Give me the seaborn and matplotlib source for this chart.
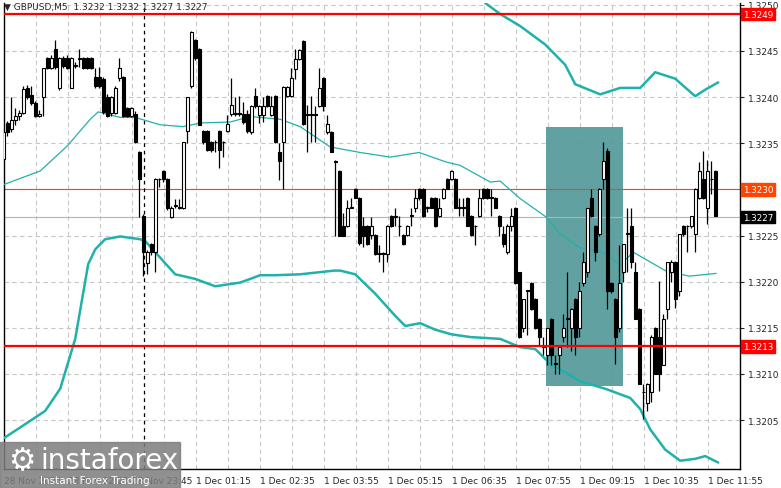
import numpy as np
import pandas as pd
import seaborn as sns
import matplotlib
matplotlib.use("Agg")
import matplotlib.pyplot as plt
from matplotlib.patches import Rectangle

# candles, values in pips above 1.3200
opens = [33.3,37.2,36.5,37.5,38,38.3,41,40.2,39.4,38,40,44.2,43.2,45.2,41,44.2,44.2,41,43.5,44.1,
         44.2,44.2,44.2,42.2,42.2,42,40,38.3,38.3,42.1,42.2,38.8,38,38.2,34.1,27.1,22,24.1,23.2,31.1,
         32,31.1,27,28.2,28,28,36.3,41.2,46.2,45.2,36.3,36.3,35.1,35.1,36.3,35.1,36.3,38.2,38.2,38.3,
         38.2,38.2,36.2,40.1,38.1,38.1,40.1,38.1,40.1,34,35.1,40.1,40.1,43.1,44.1,46.1,38.2,38.1,38.2,39,
         42.1,36.2,36.2,33.1,32,26,26,28,30,29.1,26,26,25.1,25.1,23,23.1,23,27.1,27,26,
         25.1,25.1,27.1,28,30,30,28,29.1,29.1,27.1,29.1,31.1,31.1,31.1,28,28.1,29.1,27.1,26,27.1,
         30,30,29.1,29.1,27.1,25.2,23.2,26,28,21,15,19,19.9,18.1,16,12.9,12,16,11.1,12,
         14,16,15,18.1,15,19.9,21,29.1,26,25.2,31.1,34.2,19.9,18.1,15,21,25.2,26,21,17,
         8,6.9,8,15,14,11,17,21,22.1,19,26,26,26,25.2,29.1,31.1,28,31.1,32]
highs = [36.5,37.4,40,38.8,38.6,41.2,41.3,41.2,39.6,38.6,43.2,44.3,44.6,46.2,44.3,44.5,44.6,44.3,43.8,45.2,
         44.3,44.3,44.3,43.2,43.3,42.2,40.3,40.1,41.2,44.2,42.3,38.9,38.9,38.5,34.2,27.3,23.4,24.2,31.2,31.2,
         32.1,31.2,28.2,29,29,35.1,40,47.2,46.3,45.3,36.4,36.4,35.2,35.3,36.4,35.2,38.1,42.1,40,40.1,
         39.5,38.6,39.1,41,39.2,40,40.2,40.1,40.2,35,41.2,41.2,43.2,45.2,45.2,46.2,39.2,40.1,39,43.2,
         42.2,38.1,36.3,33.2,32.1,27.4,28.9,29.1,30.1,29.2,27,26.1,27,25.2,24,23.2,26.1,27.2,28,27.1,
         25.2,26.1,28,30,30.1,30.1,28.2,29.2,29.2,29.1,30.1,31.2,32.1,31.2,29.1,29.1,29.2,27.2,26.1,30,
         30.1,30.1,30,29.2,27.2,26,26.3,28,28.1,21.1,18.1,19.1,20,18.2,16.1,14,15,16.1,12,13,
         16.5,21,17.1,18.2,20,23.2,28,30,26.1,30.1,35.1,34.5,20,18.2,24,24.1,28,28,22.1,17.1,
         8.9,9,14.2,15.1,20.1,16.5,22.1,22.3,22.2,25.2,26.1,26.1,27.1,30.1,33,34.2,33.2,33.1,32.1]
lows = [31.5,35.8,36.2,37,37.5,38.2,39.8,39.2,37.8,37.8,38,43,43,43,40.8,43.2,43,41,43.2,43.3,
        43.1,43,43.1,41,41,38.2,37.8,38,38.2,41.8,37.8,37.8,37.8,35,27,20.6,20.8,22.9,21,30.3,
        30.8,27.8,26.9,28,27.9,27.9,35,41,44,37,34.9,34.2,34,34,32.3,33.5,36.2,38,38,38,
        37.1,36.1,36,38.8,37.2,37.3,38.9,38,35,31,30,40,40,42,44,37,34.1,35.1,35.1,38.9,
        38.5,36,34,25,25,25,25.9,28,29.1,24,23.8,24,24.6,22.9,22.1,21,22.1,25.9,26,25,
        24,25,26,27.5,28.8,27,27.5,28,25.9,27,29,30,31,28,27.1,27.1,26,25,24,27,
        29,29,27.1,28,25,23.8,23,25.5,19.8,13.9,14.5,14.2,16.9,14.9,13,12,11,11,10,10,
        13.5,12.9,12.5,12,14,19.5,20.5,27,22.2,25,30,17,18.8,11.1,14.5,20,21,21.5,16,8.9,
        5.1,6,7,10,8.2,11,16,20,17.1,18.5,25,23.2,25.8,23.2,29,29,26.2,29.5,27.1]
closes = [36.2,36.2,37.5,38,38.3,40.9,40,39.4,38,38.2,43.2,43.2,44.2,43.3,44.2,43.4,43.2,44.2,43.4,44.2,
          43.2,43.2,43.2,41.2,41.2,38.4,38,40,41,43.2,38,38,38.8,35.1,31.1,23.2,23.2,23.2,31.1,31.1,
          31.1,28,28,28.3,28.1,35.1,40,47.1,44.2,37,35.1,34.3,34.3,35.1,34.3,35.1,37.1,39.2,38.3,38.2,
          37.3,36.3,39,39,39,39,39,39,35.1,33.1,41.1,41.1,42.1,44.1,45.1,37.1,38.1,38.2,38.1,41,
          39,37.1,34,33,25,25,28,28.1,29.1,24.2,25,24.1,26,23,23.1,23,26,26,27.1,26,
          24.1,26,27.1,29.1,29.1,27.1,28,28,26,28,30,30,32,28,28.1,28,26,25.1,26,29.1,
          29.1,29.1,29.1,28,26,24.1,26,27.1,19.9,14,18.1,19,17,15,14,12.9,15,12,11.1,12.9,
          15,16,17,14,19,22.1,28,27.1,23.2,30,33.1,19,19,14,19.9,24.1,25.2,22.1,16,8.9,
          8,8.9,14,10,10,16,22.1,22.1,18.1,25.2,25.2,26,27.1,30,32,29.1,32,31.1,27.1]

# bollinger bands (bar index, pips)
upper_x = [120.5, 124.25, 129.25, 135.5, 140.5, 143, 149.25, 154.25, 159.25, 163, 168, 173, 175.5, 178.75]
upper_y = [50.2, 49, 47.7, 45.7, 43.5, 41.4, 40.3, 41, 41, 42.7, 42, 40.1, 40.8, 41.6]
mid_x = [0, 9.25, 16, 21.75, 23.75, 29.25, 33, 39.25, 45, 49.25, 56.75, 61.75, 69.25, 74.25, 81.75, 89.25,
         96.75, 104, 110.5, 114.25, 121.75, 124.25, 129.25, 135.75, 139.25, 144, 149.25, 154.25, 157.5,
         165.5, 171.5, 178.25]
mid_y = [30.5, 32, 34.7, 37.6, 38.4, 37.8, 37.8, 37, 36.8, 37.2, 37.3, 37.9, 37.6, 36.8, 34.6, 34,
         33.5, 34, 33, 32.6, 30.8, 30.9, 29, 27, 25.2, 23.7, 23.3, 21.8, 23.2, 21.2, 20.6, 20.9]
low_x = [0, 4.25, 10.5, 14.25, 18, 21.25, 23, 25.5, 29.25, 34.25, 35.5, 38, 43, 48, 53, 59.25, 64.25,
         68, 74.25, 82.75, 84.25, 88, 93, 95.5, 98, 100.5, 104.25, 108, 112, 116.75, 124.25, 129.25,
         133, 136.75, 140.5, 144.25, 150.5, 156.75, 159.25, 161.75, 165.5, 169.25, 173, 175.5, 178.75]
low_y = [3, 4.2, 6, 8.4, 13.8, 21.9, 23.5, 24.6, 24.9, 24.6, 24.4, 23.2, 20.8, 20.3, 19.5, 19.9, 20.7,
         20.7, 20.8, 21.2, 21.2, 20.8, 18.7, 17.5, 16.3, 15.2, 15.5, 14.8, 14.3, 14, 13.8, 12.9,
         12.7, 11.1, 10.2, 9.2, 8.4, 7.4, 6.2, 4, 1.8, 0.6, 0.8, 1.1, 0.4]

xtick_labels = ["28 Nov 2025", "28 Nov 22:25", "28 Nov 23:45", "1 Dec 01:15", "1 Dec 02:35", "1 Dec 03:55",
                "1 Dec 05:15", "1 Dec 06:35", "1 Dec 07:55", "1 Dec 09:15", "1 Dec 10:35", "1 Dec 11:55"]
ytick_values = [1.3205, 1.3210, 1.3215, 1.3220, 1.3225, 1.3230, 1.3235, 1.3240, 1.3245, 1.3250]
tag_prices = [1.3249, 1.3230, 1.3227, 1.3213]
tag_colors = ["#ff0000", "#ff4500", "black", "#ff0000"]

to_price = lambda v: 1.32 + np.asarray(v) / 10000.0

df = pd.DataFrame({"open": to_price(opens), "high": to_price(highs),
                   "low": to_price(lows), "close": to_price(closes)})
df["i"] = np.arange(len(df))

sns.set_style("white")
plt.rcParams['font.family'] = ['DejaVu Sans']

fig = plt.figure(figsize=(7.81, 4.89), dpi=100)
ax = fig.add_axes([4 / 781, 19 / 489, 736 / 781, 466 / 489])
ax.set_xlim(0.2, 184.2)
ax.set_ylim(1.31997, 1.32502)

# grid
for gx in np.arange(0.25, 185, 8):
    ax.axvline(gx, color="#c8c8c8", lw=0.8, ls=(0, (4, 3)), zorder=0)
for gy in ytick_values:
    ax.axhline(gy, color="#c8c8c8", lw=0.8, ls=(0, (4, 3)), zorder=0)

# highlight box
ax.add_patch(Rectangle((135.8, 1.32087), 19.2, 0.00281, color="#5a9c9c", alpha=0.95, zorder=1, lw=0))

# level lines
ax.axhline(1.3249, color="#ff0000", lw=1.6, zorder=5)
ax.axhline(1.3213, color="#ff0000", lw=1.6, zorder=5)
ax.axhline(1.3230, color="#ff4500", lw=0.8, zorder=2)
ax.axhline(1.3227, color="#b4b4b4", lw=0.8, zorder=2)
ax.axvline(35.25, color="black", lw=0.9, ls=(0, (3, 3)), zorder=2)

# bands
sns.lineplot(x=upper_x, y=to_price(upper_y), ax=ax, color="#20b2aa", lw=1.8, zorder=3)
sns.lineplot(x=mid_x, y=to_price(mid_y), ax=ax, color="#20b2aa", lw=0.9, zorder=3)
sns.lineplot(x=low_x, y=to_price(low_y), ax=ax, color="#20b2aa", lw=1.8, zorder=3)

# candles
ax.vlines(df["i"], df["low"], df["high"], color="black", lw=0.9, zorder=4)
bull = df["close"] >= df["open"]
body_h = (df["close"] - df["open"]).abs().clip(lower=0.000008)
body_b = df[["open", "close"]].min(axis=1)
ax.bar(df["i"][bull], body_h[bull], bottom=body_b[bull], width=0.7, color="white",
       edgecolor="black", lw=0.8, zorder=4)
ax.bar(df["i"][~bull], body_h[~bull], bottom=body_b[~bull], width=0.7, color="black",
       edgecolor="black", lw=0.8, zorder=4)

# axes styling
for s in ax.spines.values():
    s.set_color("black")
    s.set_linewidth(1)
ax.spines["top"].set_visible(False)
ax.yaxis.tick_right()
ax.set_yticks(ytick_values)
ax.set_yticklabels(["" if abs(v - 1.3230) < 1e-6 else f"{v:.4f}" for v in ytick_values], fontsize=6.5)
ax.tick_params(axis="y", length=3, pad=3)
ax.set_xticks(np.arange(0.25, 185, 16)[:len(xtick_labels)])
ax.set_xticklabels(xtick_labels, fontsize=6.5, ha="left")
ax.tick_params(axis="x", length=3, pad=2)

# price tags on the right
for price, bg in zip(tag_prices, tag_colors):
    ax.text(1.004, price, f"{price:.4f}", transform=ax.get_yaxis_transform(), fontsize=6.3,
            color="white", va="center", ha="left", zorder=10,
            bbox=dict(boxstyle="square,pad=0.2", fc=bg, ec=bg))

fig.text(0.005, 0.985, "\u25bc GBPUSD,M5  1.3232 1.3232 1.3227 1.3227", fontsize=6.5, va="center")

# watermark
fig.patches.append(Rectangle((0, 0), 180 / 781, 46 / 489, transform=fig.transFigure,
                             color="#7d7d7d", alpha=0.85, zorder=20))
fig.text(8 / 781, 27 / 489, "\u2699", fontsize=22, color="white", va="center", zorder=21)
fig.text(40 / 781, 28 / 489, "instaforex", fontsize=20, color="white", va="center", zorder=21)
fig.text(40 / 781, 8 / 489, "Instant Forex Trading", fontsize=7.5, color="white", va="center", zorder=21)

fig.savefig("out.png", dpi=100)
